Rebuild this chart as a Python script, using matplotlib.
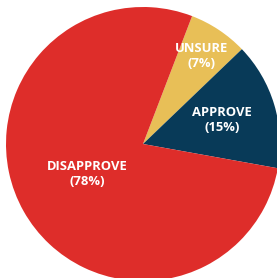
import numpy as np
import matplotlib
matplotlib.use("Agg")
import matplotlib.pyplot as plt

labels = ["UNSURE", "APPROVE", "DISAPPROVE"]
shares = [7, 15, 78]
colors = ["#E8BF57", "#083A58", "#DE2D2A"]
label_dist = [0.77, 0.60, 0.44]

fig = plt.figure(figsize=(2.77, 2.78), dpi=100)
ax = fig.add_axes([0, 0, 1, 1])

cx, cy, r = 143, 134, 137
wedges, _ = ax.pie(shares, colors=colors, startangle=69, counterclock=False,
                   center=(cx, cy), radius=r, frame=True,
                   wedgeprops=dict(linewidth=0))
ax.set_xlim(0, 277)
ax.set_ylim(0, 278)
ax.set_aspect("equal")
ax.axis("off")

for w, lab, val, d in zip(wedges, labels, shares, label_dist):
    mid = np.deg2rad((w.theta1 + w.theta2) / 2)
    x = cx + d * r * np.cos(mid) - (3 if lab == "DISAPPROVE" else 0)
    y = cy + d * r * np.sin(mid)
    ax.text(x, y, f"{lab}\n({val}%)", ha="center", va="center", color="white",
            fontsize=9.4, fontweight="bold", family="Open Sans", linespacing=1.2)

fig.savefig("out.png", dpi=100)
